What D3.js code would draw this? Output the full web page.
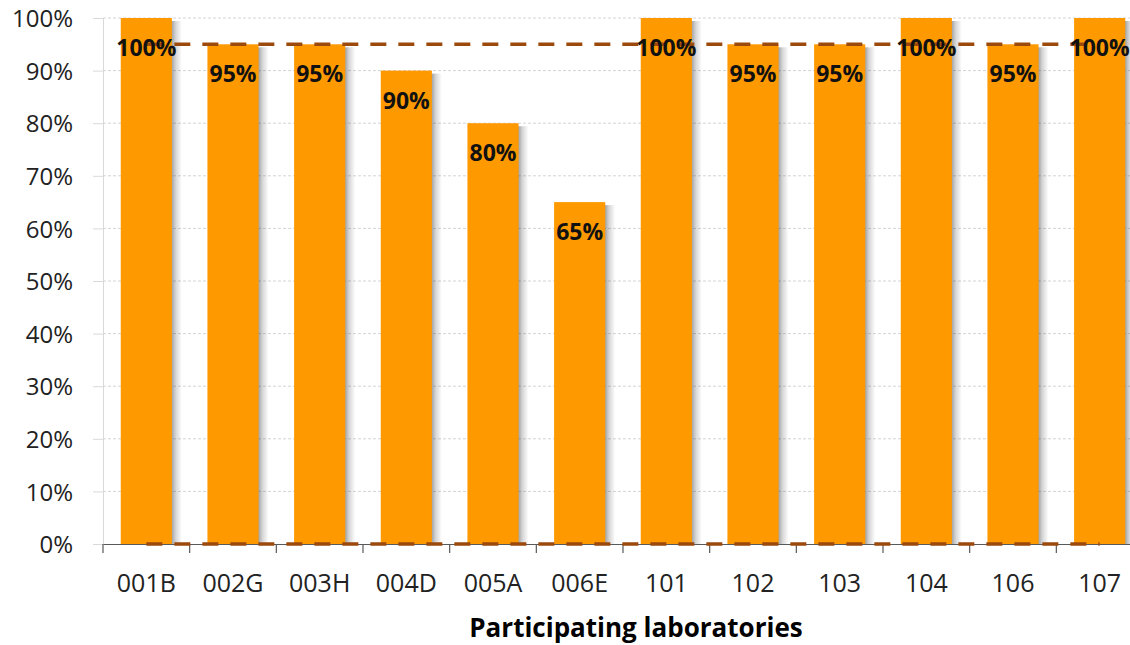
<!DOCTYPE html>
<html>
<head>
<meta charset="utf-8">
<script src="https://cdn.jsdelivr.net/npm/d3@7"></script>
<style>
  html, body { margin: 0; padding: 0; background: #fff; }
  svg { display: block; }
  text { font-family: "Open Sans", "Noto Sans", sans-serif; }
</style>
</head>
<body>
<svg id="chart" width="1130" height="645"></svg>
<script>
// Laboratories and their success rates (%)
const labs = ["001B", "002G", "003H", "004D", "005A", "006E", "101", "102", "103", "104", "106", "107"];
const rates = [100, 95, 95, 90, 80, 65, 100, 95, 95, 100, 95, 100];
// Reference limits drawn as dashed lines (%)
const upperLimit = [95, 95, 95, 95, 95, 95, 95, 95, 95, 95, 95, 95];
const lowerLimit = [0, 0, 0, 0, 0, 0, 0, 0, 0, 0, 0, 0];
const yTicks = [0, 10, 20, 30, 40, 50, 60, 70, 80, 90, 100];
const xTitle = "Participating laboratories";

const svg = d3.select("#chart");
const plot = { left: 103, right: 1143, top: 18, bottom: 544 };

const x = d3.scaleBand()
  .domain(labs)
  .range([plot.left, plot.right])
  .paddingInner(0.41)
  .paddingOuter(0.205);

const y = d3.scaleLinear()
  .domain([0, 100])
  .range([plot.bottom, plot.top]);

const defs = svg.append("defs");
const grad = defs.append("linearGradient").attr("id", "barShadow")
  .attr("x1", "0%").attr("x2", "100%").attr("y1", "0%").attr("y2", "0%");
grad.append("stop").attr("offset", "0%").attr("stop-color", "#000").attr("stop-opacity", 0.4);
grad.append("stop").attr("offset", "45%").attr("stop-color", "#000").attr("stop-opacity", 0.16);
grad.append("stop").attr("offset", "100%").attr("stop-color", "#000").attr("stop-opacity", 0);

// Horizontal gridlines
svg.append("g")
  .selectAll("line")
  .data(yTicks.filter(d => d > 0))
  .join("line")
  .attr("x1", plot.left).attr("x2", 1130)
  .attr("y1", d => y(d)).attr("y2", d => y(d))
  .attr("stroke", "#d4d4d4")
  .attr("stroke-width", 1)
  .attr("stroke-dasharray", "3,2");

// Y axis
const yAxis = svg.append("g")
  .attr("transform", `translate(${plot.left},0)`)
  .call(d3.axisLeft(y).tickValues(yTicks).tickFormat(d => d + "%").tickSize(10).tickPadding(20));
yAxis.select(".domain").attr("stroke", "#d9d9d9");
yAxis.selectAll(".tick line").attr("stroke", "#d9d9d9");
yAxis.selectAll(".tick text")
  .attr("font-family", "'Open Sans', sans-serif")
  .attr("font-size", 24)
  .attr("fill", "#222")
  .attr("dy", "0.36em");

// Bar shadows
svg.append("g")
  .selectAll("rect")
  .data(labs.map((l, i) => ({ lab: l, v: rates[i] })))
  .join("rect")
  .attr("x", d => x(d.lab) + x.bandwidth() - 1)
  .attr("y", d => y(d.v) + 3)
  .attr("width", 11)
  .attr("height", d => y(0) - y(d.v) - 3)
  .attr("fill", "url(#barShadow)");

// Bars
svg.append("g")
  .selectAll("rect")
  .data(labs.map((l, i) => ({ lab: l, v: rates[i] })))
  .join("rect")
  .attr("x", d => x(d.lab))
  .attr("y", d => y(d.v))
  .attr("width", x.bandwidth())
  .attr("height", d => y(0) - y(d.v))
  .attr("fill", "#ff9900");

// X axis
const xAxis = svg.append("g")
  .attr("transform", `translate(0,${plot.bottom})`)
  .call(d3.axisBottom(x).tickSize(0).tickPadding(30));
xAxis.select(".domain").attr("stroke", "#595959").attr("stroke-width", 1);
xAxis.selectAll(".tick text")
  .attr("font-family", "'Open Sans', sans-serif")
  .attr("font-size", 25)
  .attr("fill", "#222");
// Tick marks on category boundaries
const step = x.step();
const boundaries = d3.range(labs.length + 1).map(i => plot.left + i * step);
svg.append("g")
  .selectAll("line")
  .data(boundaries)
  .join("line")
  .attr("x1", d => d).attr("x2", d => d)
  .attr("y1", plot.bottom).attr("y2", plot.bottom + 9)
  .attr("stroke", "#595959")
  .attr("stroke-width", 1.2);

// Limit lines
const limitLine = d3.line()
  .x((d, i) => x(labs[i]) + x.bandwidth() / 2)
  .y(d => y(d));
[upperLimit, lowerLimit].forEach(series => {
  svg.append("path")
    .datum(series)
    .attr("d", limitLine)
    .attr("fill", "none")
    .attr("stroke", "#9c4a0c")
    .attr("stroke-width", 3.5)
    .attr("stroke-dasharray", "16,12");
});

// Value labels inside bars
svg.append("g")
  .selectAll("text")
  .data(labs.map((l, i) => ({ lab: l, v: rates[i] })))
  .join("text")
  .attr("x", d => x(d.lab) + x.bandwidth() / 2)
  .attr("y", d => y(d.v) + 38)
  .attr("text-anchor", "middle")
  .attr("font-family", "'Open Sans', sans-serif")
  .attr("font-weight", 700)
  .attr("font-size", 23)
  .attr("fill", "#111")
  .text(d => d.v + "%");

// Axis title
svg.append("text")
  .attr("x", 636)
  .attr("y", 637)
  .attr("text-anchor", "middle")
  .attr("font-family", "'Open Sans', sans-serif")
  .attr("font-weight", 700)
  .attr("font-size", 26)
  .attr("fill", "#000")
  .text(xTitle);
</script>
</body>
</html>
